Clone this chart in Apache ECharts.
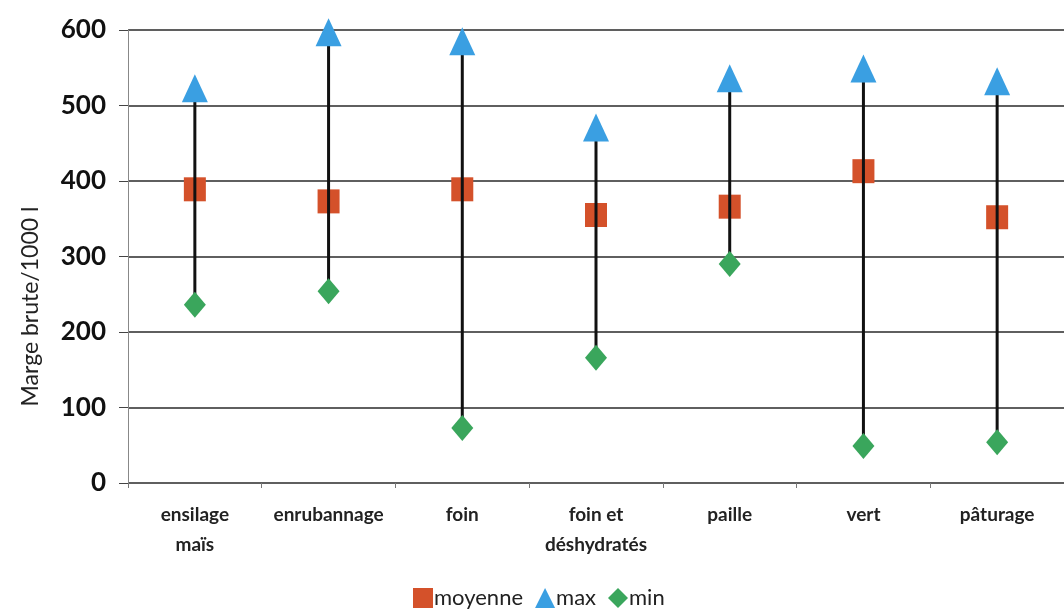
<!DOCTYPE html>
<html>
<head>
<meta charset="utf-8">
<script src="https://cdn.jsdelivr.net/npm/echarts@6/dist/echarts.min.js"></script>
<style>
    html, body { margin: 0; padding: 0; background: #fff; }
    #chart { width: 1064px; height: 616px; }
</style>
</head>
<body>
<div id="chart"></div>
<script>
    const categories = ['ensilage\nmaïs', 'enrubannage', 'foin', 'foin et\ndéshydratés', 'paille', 'vert', 'pâturage'];
    const moyenne = [389, 373, 389, 355, 366, 413, 352];
    const maxVals = [523, 597, 585, 471, 536, 549, 532];
    const minVals = [236, 254, 73, 166, 290, 49, 54];
    const yTicks = [0, 100, 200, 300, 400, 500, 600];

    const myChart = echarts.init(document.getElementById('chart'));
    const font = 'Lato, "Open Sans", sans-serif';

    const option = {
        backgroundColor: '#fff',
        animation: false,
        textStyle: { fontFamily: font },
        legend: {
            left: 408,
            top: 582,
            itemWidth: 20,
            itemHeight: 20,
            itemGap: 12,
            textStyle: { fontSize: 22, color: '#222', fontFamily: font, padding: [0, 0, 0, -4] },
            data: [
                { name: 'moyenne', icon: 'rect' },
                { name: 'max', icon: 'triangle' },
                { name: 'min', icon: 'diamond' }
            ]
        },
        grid: { left: 128, top: 30, width: 944, height: 453 },
        xAxis: {
            type: 'category',
            data: categories,
            axisLine: { show: false },
            axisTick: { show: true, length: 5, lineStyle: { color: '#777' } },
            axisLabel: {
                interval: 0,
                hideOverlap: false,
                margin: 17,
                fontSize: 19,
                fontWeight: 'bold',
                color: '#222',
                lineHeight: 30,
                fontFamily: font
            }
        },
        yAxis: {
            type: 'value',
            min: 0,
            max: 600,
            interval: 100,
            name: 'Marge brute/1000 l',
            nameLocation: 'middle',
            nameGap: 86,
            nameTextStyle: { fontSize: 23, color: '#222', fontFamily: font, padding: [0, 100, 0, 0] },
            axisLine: { show: true, lineStyle: { color: '#888', width: 1 } },
            axisTick: { show: true, length: 9, lineStyle: { color: '#444' } },
            axisLabel: {
                margin: 22,
                fontSize: 26,
                fontWeight: 'bold',
                color: '#111',
                fontFamily: font,
                formatter: v => yTicks.includes(v) ? String(v) : ''
            },
            splitLine: { lineStyle: { color: '#2a2a2a', width: 1.6 } }
        },
        series: [
            {
                name: 'moyenne',
                type: 'scatter',
                symbol: 'rect',
                symbolSize: [22, 24],
                itemStyle: { color: '#d4512a', opacity: 1 },
                data: moyenne,
                z: 2
            },
            {
                name: 'range',
                type: 'custom',
                z: 3,
                silent: true,
                encode: { x: 0, y: [1, 2] },
                data: categories.map((c, i) => [i, minVals[i], maxVals[i]]),
                renderItem: function (params, api) {
                    const p1 = api.coord([api.value(0), api.value(1)]);
                    const p2 = api.coord([api.value(0), api.value(2)]);
                    return {
                        type: 'line',
                        shape: { x1: p1[0], y1: p1[1], x2: p2[0], y2: p2[1] },
                        style: { stroke: '#111', lineWidth: 3 }
                    };
                }
            },
            {
                name: 'max',
                type: 'scatter',
                symbol: 'triangle',
                symbolSize: [26, 28],
                itemStyle: { color: '#3a9fe2', opacity: 1 },
                data: maxVals,
                z: 4
            },
            {
                name: 'min',
                type: 'scatter',
                symbol: 'diamond',
                symbolSize: [22, 26],
                itemStyle: { color: '#3aa65c', opacity: 1 },
                data: minVals,
                z: 4
            }
        ]
    };
    myChart.setOption(option);
</script>
</body>
</html>
